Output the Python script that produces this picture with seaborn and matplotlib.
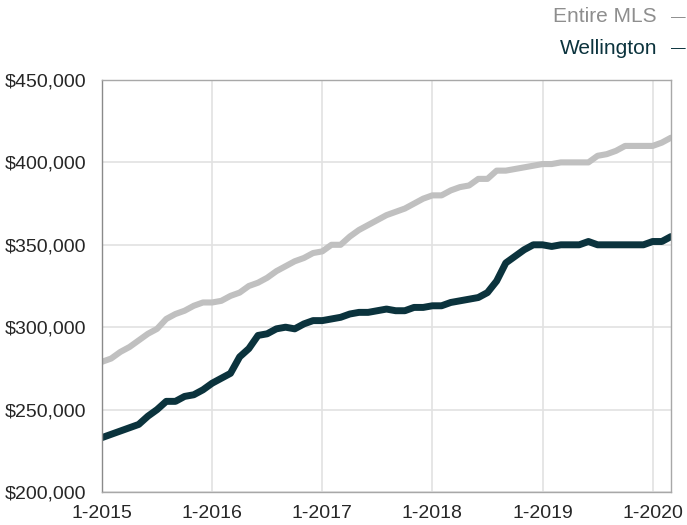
import numpy as np
import pandas as pd
import matplotlib
matplotlib.use('Agg')
import matplotlib.pyplot as plt
import seaborn as sns

# Precio mensual, enero 2015 a marzo 2020 (en miles)
meses = pd.date_range('2015-01-01', '2020-03-01', freq='MS')

entire_mls = [279, 281, 285, 288, 292, 296, 299, 305, 308, 310, 313, 315,
              315, 316, 319, 321, 325, 327, 330, 334, 337, 340, 342, 345,
              346, 350, 350, 355, 359, 362, 365, 368, 370, 372, 375, 378,
              380, 380, 383, 385, 386, 390, 390, 395, 395, 396, 397, 398,
              399, 399, 400, 400, 400, 400, 404, 405, 407, 410, 410, 410,
              410, 412, 415]

wellington = [233, 235, 237, 239, 241, 246, 250, 255, 255, 258, 259, 262,
              266, 269, 272, 282, 287, 295, 296, 299, 300, 299, 302, 304,
              304, 305, 306, 308, 309, 309, 310, 311, 310, 310, 312, 312,
              313, 313, 315, 316, 317, 318, 321, 328, 339, 343, 347, 350,
              350, 349, 350, 350, 350, 352, 350, 350, 350, 350, 350, 350,
              352, 352, 355]

etiquetas_x = ['1-2015', '1-2016', '1-2017', '1-2018', '1-2019', '1-2020']
ticks_y = [200000, 250000, 300000, 350000, 400000, 450000]

color_mls = '#c0c0c0'
color_well = '#0b333d'

df = pd.DataFrame({'mes': np.arange(len(meses)),
                   'Entire MLS': np.array(entire_mls) * 1000,
                   'Wellington': np.array(wellington) * 1000})

sns.set_style('white')
plt.rcParams['font.family'] = ['Liberation Sans', 'DejaVu Sans']

fig = plt.figure(figsize=(6.87, 5.25), dpi=100)
ax = fig.add_axes([102 / 687, 1 - 492 / 525, (671 - 102) / 687, (492 - 80) / 525])

sns.lineplot(data=df, x='mes', y='Entire MLS', ax=ax, color=color_mls, linewidth=4.4)
sns.lineplot(data=df, x='mes', y='Wellington', ax=ax, color=color_well, linewidth=5.0)

ax.set_xlim(0, len(meses) - 1)
ax.set_ylim(200000, 450000)
ax.set_xticks(np.arange(0, len(meses), 12))
ax.set_xticklabels(etiquetas_x)
ax.set_yticks(ticks_y)
ax.set_yticklabels([f'${v:,.0f}' for v in ticks_y])
ax.set_xlabel('')
ax.set_ylabel('')

ax.grid(True, color='#e2e2e2', linewidth=1.2)
ax.set_axisbelow(True)
for lado in ['top', 'right', 'bottom']:
    ax.spines[lado].set_color('#a8a8a8')
ax.spines['left'].set_color('#8a8a8a')
for s in ax.spines.values():
    s.set_linewidth(1.0)

ax.tick_params(axis='x', length=5, color='#a8a8a8', labelsize=14, pad=4)
ax.tick_params(axis='y', length=0, labelsize=14, pad=11)

# Leyenda como texto en la esquina superior derecha
leyenda = [('Entire MLS', '#8e8e8e', 17), ('Wellington', color_well, 48)]
for nombre, color, y in leyenda:
    fig.text(657 / 687, 1 - y / 525, nombre, color=color,
             fontsize=15, ha='right', va='center')
    fig.text(671 / 687, 1 - y / 525, '\u2014', color=color,
             fontsize=10.5, ha='left', va='center')

fig.savefig('out.png', dpi=100)
